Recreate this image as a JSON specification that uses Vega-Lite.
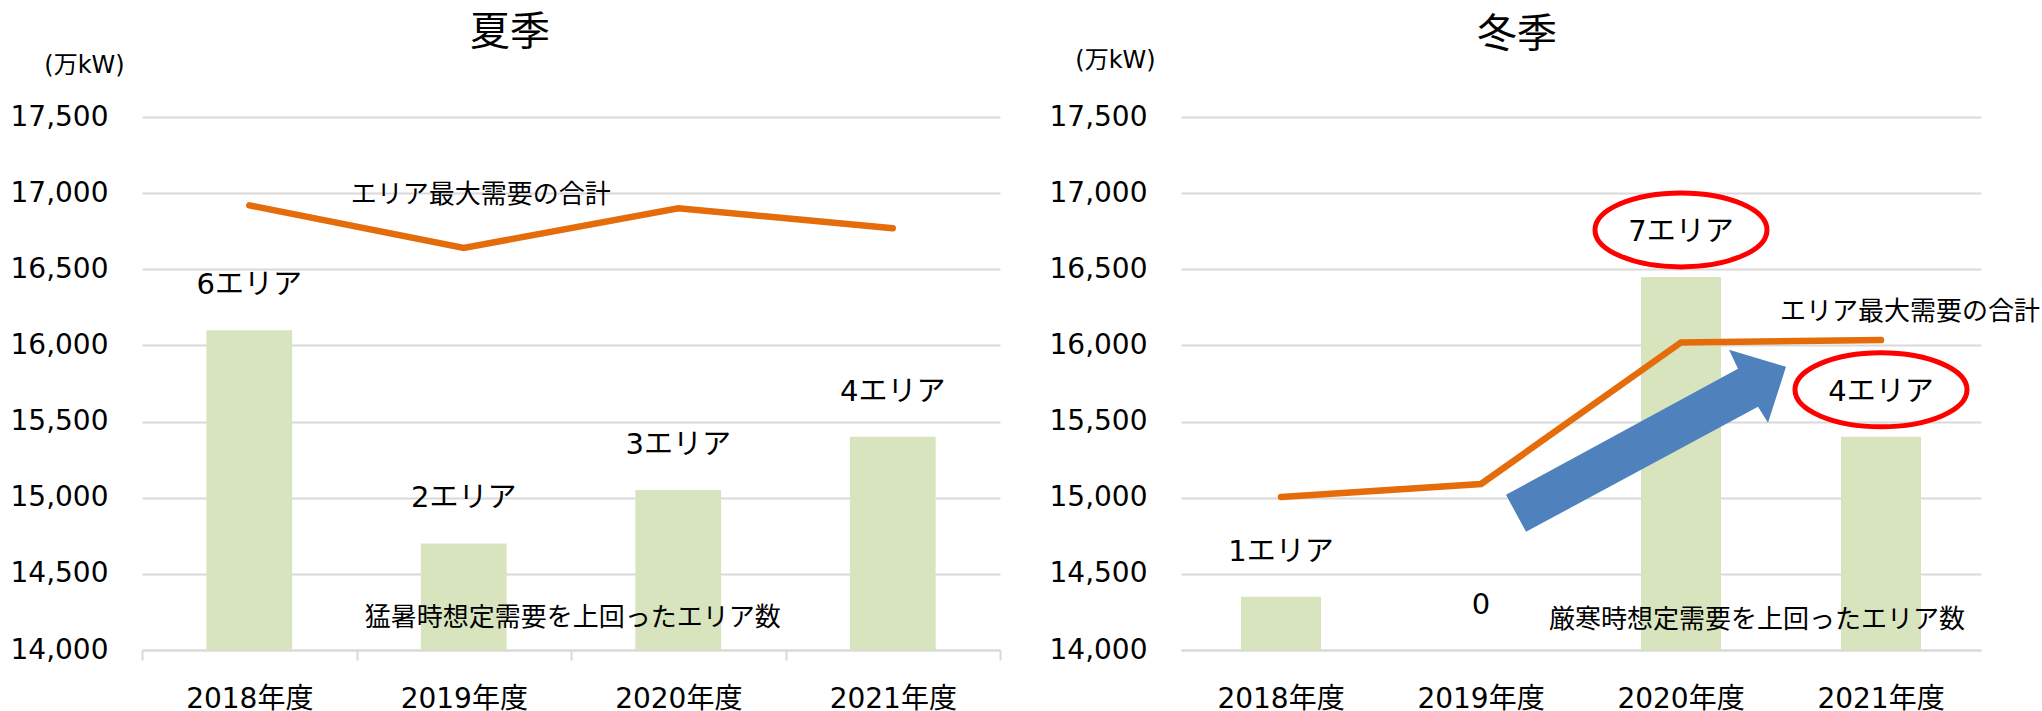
{
  "$schema": "https://vega.github.io/schema/vega-lite/v6.json",
  "padding": {"left": 10, "top": 13, "right": 0, "bottom": 0},
  "spacing": 181,
  "bounds": "flush",
  "datasets": {
    "main": [
      {"season": "夏季", "year": "2018年度", "bar": 16100, "line": 16920, "label": "6エリア", "circled": false},
      {"season": "夏季", "year": "2019年度", "bar": 14700, "line": 16640, "label": "2エリア", "circled": false},
      {"season": "夏季", "year": "2020年度", "bar": 15050, "line": 16900, "label": "3エリア", "circled": false},
      {"season": "夏季", "year": "2021年度", "bar": 15400, "line": 16770, "label": "4エリア", "circled": false},
      {"season": "冬季", "year": "2018年度", "bar": 14350, "line": 15005, "label": "1エリア", "circled": false},
      {"season": "冬季", "year": "2019年度", "bar": 14000, "line": 15090, "label": "0", "circled": false},
      {"season": "冬季", "year": "2020年度", "bar": 16450, "line": 16020, "label": "7エリア", "circled": true},
      {"season": "冬季", "year": "2021年度", "bar": 15400, "line": 16035, "label": "4エリア", "circled": true}
    ],
    "notes": [
      {"season": "夏季", "kind": "demand", "year": "2019年度", "value": 16990, "text": "エリア最大需要の合計"},
      {"season": "夏季", "kind": "count", "year": "2019年度", "value": 14210, "text": "猛暑時想定需要を上回ったエリア数"},
      {"season": "冬季", "kind": "demand", "year": "2021年度", "value": 16220, "text": "エリア最大需要の合計"},
      {"season": "冬季", "kind": "count", "year": "2021年度", "value": 14195, "text": "厳寒時想定需要を上回ったエリア数"},
      {"season": "冬季", "kind": "arrow", "year": "2020年度", "value": 15400, "text": ""}
    ]
  },
  "hconcat": [
    {
      "width": 858,
      "height": 533,
      "title": {"text": "夏季", "fontSize": 40, "fontWeight": "normal", "font": "Noto Sans CJK JP", "anchor": "middle", "frame": "group", "dx": -61, "offset": 0, "color": "#000000"},
      "data": {"name": "main"},
      "transform": [{"filter": "datum.season === '夏季'"}],
      "encoding": {
        "x": {
          "field": "year", "type": "nominal",
          "scale": {"domain": ["2018年度", "2019年度", "2020年度", "2021年度"], "paddingInner": 0, "paddingOuter": 0},
          "axis": {"title": null, "labelAngle": 0, "labelFontSize": 28, "labelFont": "DejaVu Sans, Noto Sans CJK JP", "labelColor": "#000000", "labelPadding": 25, "domainColor": "#D9D9D9", "domainWidth": 2, "ticks": true, "tickColor": "#D9D9D9", "tickWidth": 2, "tickSize": 10, "tickBand": "extent", "grid": false}
        }
      },
      "layer": [
        {
          "mark": {"type": "bar", "color": "#D7E4BD", "width": {"band": 0.4}},
          "encoding": {
            "y": {
              "field": "bar", "type": "quantitative",
              "scale": {"domain": [14000, 17500], "zero": false, "nice": false},
              "axis": {"values": [14000, 14500, 15000, 15500, 16000, 16500, 17000, 17500], "format": ",d", "grid": true, "gridColor": "#D9D9D9", "gridWidth": 2, "domain": false, "ticks": false, "labelPadding": 34, "labelFontSize": 28, "labelFont": "DejaVu Sans", "labelColor": "#000000", "title": "(万kW)", "titleAngle": 0, "titleX": -58, "titleY": -52, "titleAlign": "center", "titleBaseline": "middle", "titleFontSize": 24, "titleFontWeight": "normal", "titleFont": "DejaVu Sans, Noto Sans CJK JP", "titleColor": "#000000"}
            },
            "y2": {"datum": 14000}
          }
        },
        {
          "mark": {"type": "line", "color": "#E46C0A", "strokeWidth": 6.5, "strokeCap": "round"},
          "encoding": {"y": {"field": "line", "type": "quantitative"}}
        },
        {
          "mark": {"type": "text", "dy": -45, "fontSize": 29, "font": "DejaVu Sans, Noto Sans CJK JP", "baseline": "middle", "align": "center", "color": "#000000"},
          "encoding": {"y": {"field": "bar", "type": "quantitative"}, "text": {"field": "label"}}
        },
        {
          "data": {"name": "notes"},
          "transform": [{"filter": "datum.season === '夏季' && datum.kind === 'demand'"}],
          "mark": {"type": "text", "dx": 17, "fontSize": 26, "font": "Noto Sans CJK JP", "baseline": "middle", "align": "center", "color": "#000000"},
          "encoding": {"y": {"field": "value", "type": "quantitative"}, "text": {"field": "text"}}
        },
        {
          "data": {"name": "notes"},
          "transform": [{"filter": "datum.season === '夏季' && datum.kind === 'count'"}],
          "mark": {"type": "text", "dx": 109, "fontSize": 26, "font": "Noto Sans CJK JP", "baseline": "middle", "align": "center", "color": "#000000"},
          "encoding": {"y": {"field": "value", "type": "quantitative"}, "text": {"field": "text"}}
        }
      ]
    },
    {
      "width": 800,
      "height": 533,
      "title": {"text": "冬季", "fontSize": 40, "fontWeight": "normal", "font": "Noto Sans CJK JP", "anchor": "middle", "frame": "group", "dx": -64, "offset": -7, "color": "#000000"},
      "data": {"name": "main"},
      "transform": [{"filter": "datum.season === '冬季'"}],
      "encoding": {
        "x": {
          "field": "year", "type": "nominal",
          "scale": {"domain": ["2018年度", "2019年度", "2020年度", "2021年度"], "paddingInner": 0, "paddingOuter": 0},
          "axis": {"title": null, "labelAngle": 0, "labelFontSize": 28, "labelFont": "DejaVu Sans, Noto Sans CJK JP", "labelColor": "#000000", "labelPadding": 35, "domainColor": "#D9D9D9", "domainWidth": 2, "ticks": false, "grid": false}
        }
      },
      "layer": [
        {
          "mark": {"type": "bar", "color": "#D7E4BD", "width": {"band": 0.4}},
          "encoding": {
            "y": {
              "field": "bar", "type": "quantitative",
              "scale": {"domain": [14000, 17500], "zero": false, "nice": false},
              "axis": {"values": [14000, 14500, 15000, 15500, 16000, 16500, 17000, 17500], "format": ",d", "grid": true, "gridColor": "#D9D9D9", "gridWidth": 2, "domain": false, "ticks": false, "labelPadding": 34, "labelFontSize": 28, "labelFont": "DejaVu Sans", "labelColor": "#000000", "title": "(万kW)", "titleAngle": 0, "titleX": -66, "titleY": -57, "titleAlign": "center", "titleBaseline": "middle", "titleFontSize": 24, "titleFontWeight": "normal", "titleFont": "DejaVu Sans, Noto Sans CJK JP", "titleColor": "#000000"}
            },
            "y2": {"datum": 14000}
          }
        },
        {
          "mark": {"type": "line", "color": "#E46C0A", "strokeWidth": 6.5, "strokeCap": "round"},
          "encoding": {"y": {"field": "line", "type": "quantitative"}}
        },
        {
          "data": {"name": "notes"},
          "transform": [{"filter": "datum.kind === 'arrow'"}],
          "mark": {"type": "point", "shape": "M-175,58L57,-68L48,-87L105,-70L87,-14L77,-30L-155,95Z", "size": 4, "filled": true, "color": "#4F81BD", "opacity": 1, "strokeWidth": 0},
          "encoding": {"y": {"field": "value", "type": "quantitative"}}
        },
        {
          "transform": [{"filter": "datum.circled"}],
          "mark": {"type": "point", "shape": "M-86,-47A86,37,0,1,1,86,-47A86,37,0,1,1,-86,-47Z", "size": 4, "filled": false, "color": "#FF0000", "opacity": 1, "strokeWidth": 5},
          "encoding": {"y": {"field": "bar", "type": "quantitative"}}
        },
        {
          "mark": {"type": "text", "dy": -45, "fontSize": 29, "font": "DejaVu Sans, Noto Sans CJK JP", "baseline": "middle", "align": "center", "color": "#000000"},
          "encoding": {"y": {"field": "bar", "type": "quantitative"}, "text": {"field": "label"}}
        },
        {
          "data": {"name": "notes"},
          "transform": [{"filter": "datum.season === '冬季' && datum.kind === 'demand'"}],
          "mark": {"type": "text", "dx": 29, "fontSize": 26, "font": "Noto Sans CJK JP", "baseline": "middle", "align": "center", "color": "#000000"},
          "encoding": {"y": {"field": "value", "type": "quantitative"}, "text": {"field": "text"}}
        },
        {
          "data": {"name": "notes"},
          "transform": [{"filter": "datum.season === '冬季' && datum.kind === 'count'"}],
          "mark": {"type": "text", "dx": -124, "fontSize": 26, "font": "Noto Sans CJK JP", "baseline": "middle", "align": "center", "color": "#000000"},
          "encoding": {"y": {"field": "value", "type": "quantitative"}, "text": {"field": "text"}}
        }
      ]
    }
  ],
  "config": {
    "view": {"stroke": null},
    "font": "DejaVu Sans, Noto Sans CJK JP"
  }
}
